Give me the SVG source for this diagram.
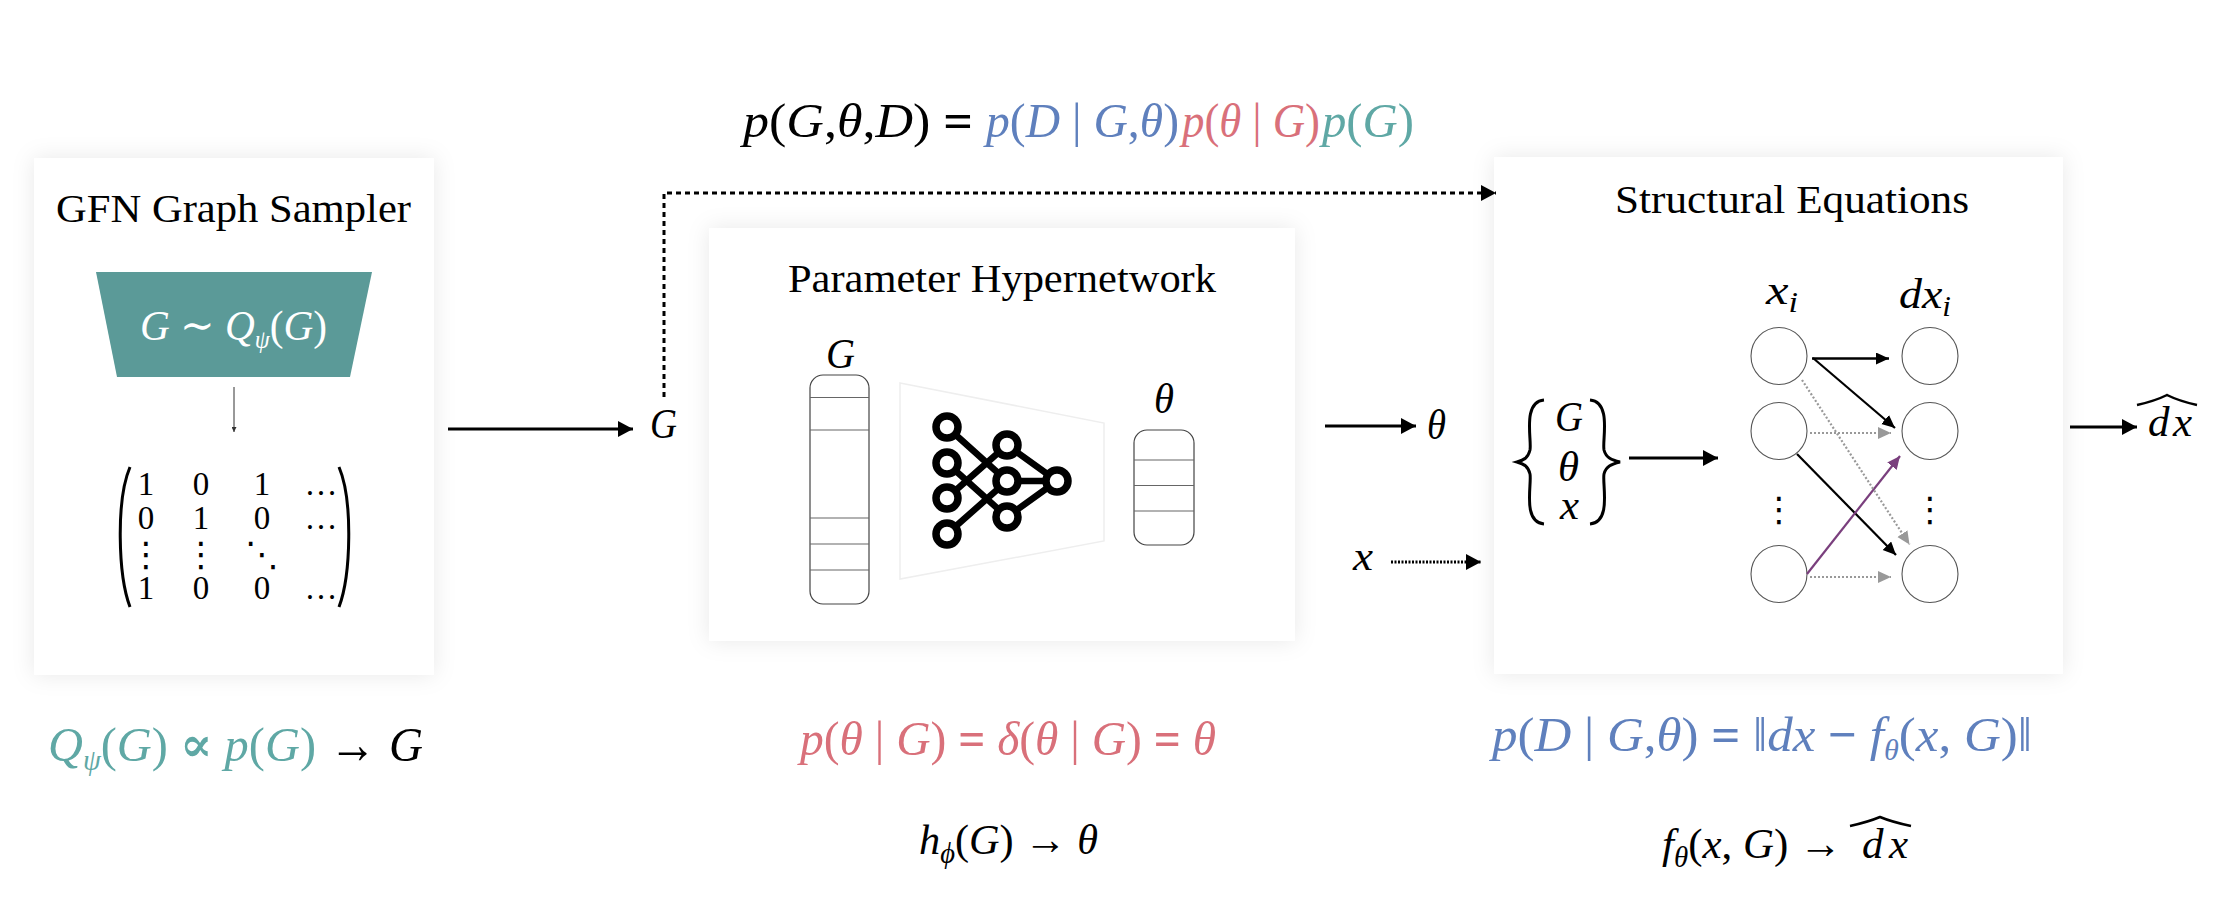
<svg xmlns="http://www.w3.org/2000/svg" width="2222" height="916" viewBox="0 0 2222 916">
<style>
text{font-family:"Liberation Serif","DejaVu Serif",serif;fill:#000}
.t{font-size:41px}
.m{font-size:49px;font-style:italic}
.l{font-size:43px;font-style:italic}
.u{font-style:normal}
.b{font-weight:bold;font-style:normal}
.s{font-size:29px}
.n{font-size:33px}
.dots{font-family:"DejaVu Sans",sans-serif;font-size:34px}
.blue{fill:#5f80bd}
.red{fill:#d9707a}
.green{fill:#5fa8a5}
.w,.w tspan{fill:#fff}
.box{fill:#fff;filter:url(#sh)}
.cell{fill:#fff;stroke:#444;stroke-width:1.2}
.sep{stroke:#666;stroke-width:1.2}
.c{fill:#fff;stroke:#555;stroke-width:1.1}
.nl{fill:none;stroke:#000;stroke-width:6.500}
.nc{fill:#fff;stroke:#000;stroke-width:7.500}
.a{fill:none;stroke:#000}
.br{fill:none;stroke:#000;stroke-width:3}
</style>
<defs>
<filter id="sh" x="-15%" y="-15%" width="130%" height="130%"><feDropShadow dx="0" dy="0" stdDeviation="11" flood-color="#000" flood-opacity="0.09"/></filter>
<marker id="ak" markerUnits="userSpaceOnUse" markerWidth="16" markerHeight="18" refX="15" refY="8" orient="auto"><path d="M0 0L15 8L0 16z" fill="#000"/></marker>
<marker id="am" markerUnits="userSpaceOnUse" markerWidth="14" markerHeight="14" refX="13" refY="6" orient="auto"><path d="M0 0L13 6L0 12z" fill="#000"/></marker>
<marker id="ag" markerUnits="userSpaceOnUse" markerWidth="14" markerHeight="14" refX="13" refY="6" orient="auto"><path d="M0 0L13 6L0 12z" fill="#999"/></marker>
<marker id="ap" markerUnits="userSpaceOnUse" markerWidth="14" markerHeight="14" refX="13" refY="6" orient="auto"><path d="M0 0L13 6L0 12z" fill="#7a3f7d"/></marker>
<marker id="at" markerUnits="userSpaceOnUse" markerWidth="6" markerHeight="6" refX="2.500" refY="5" orient="0"><path d="M0 0L5 0L2.500 5z" fill="#333"/></marker>
</defs>
<rect width="2222" height="916" fill="#fff"/>

<g id="sampler">
<rect class="box" x="34" y="158" width="400" height="517"/>
<text class="t" x="56" y="222" textLength="355" lengthAdjust="spacingAndGlyphs">GFN Graph Sampler</text>
<path d="M96 272H372L350 377H117z" fill="#5b9a98"/>
<text class="l w" x="140" y="340" textLength="187" lengthAdjust="spacingAndGlyphs">G ∼ Q<tspan style="font-size:25px" dy="8">ψ</tspan><tspan class="u" dy="-8">(</tspan>G<tspan class="u">)</tspan></text>
<g>
<text class="n" x="146" y="495" text-anchor="middle">1</text><text class="n" x="201" y="495" text-anchor="middle">0</text><text class="n" x="262" y="495" text-anchor="middle">1</text><text class="n" x="321" y="495" text-anchor="middle">…</text>
<text class="n" x="146" y="529" text-anchor="middle">0</text><text class="n" x="201" y="529" text-anchor="middle">1</text><text class="n" x="262" y="529" text-anchor="middle">0</text><text class="n" x="321" y="529" text-anchor="middle">…</text>
<text class="dots" x="146" y="566" text-anchor="middle">⋮</text><text class="dots" x="201" y="566" text-anchor="middle">⋮</text><text class="dots" x="262" y="566" text-anchor="middle">⋱</text>
<text class="n" x="146" y="599" text-anchor="middle">1</text><text class="n" x="201" y="599" text-anchor="middle">0</text><text class="n" x="262" y="599" text-anchor="middle">0</text><text class="n" x="321" y="599" text-anchor="middle">…</text>
</g>
<path class="br" d="M130 467C116 500 118 575 130 607"/>
<path class="br" d="M339 467C353 500 351 575 339 607"/>
</g>

<g id="hypernetwork">
<rect class="box" x="709" y="228" width="586" height="413"/>
<text class="t" x="788" y="292" textLength="428" lengthAdjust="spacingAndGlyphs">Parameter Hypernetwork</text>
<text class="l" x="826" y="368" textLength="29" lengthAdjust="spacingAndGlyphs">G</text>
<rect class="cell" x="810" y="375" width="59" height="229" rx="13"/>
<path class="sep" d="M810 397.500H869M810 430H869M810 518H869M810 544H869M810 570H869"/>
<path d="M900 383L1104 423V541L900 579z" fill="#fff" stroke="#eeeeee" stroke-width="1.500"/>
<g id="nn-icon">
<path class="nl" d="M947 427L1007 481M947 463L1007 517M947 498L1007 445M947 534L1007 481M1007 445L1057 481M1007 481H1057M1007 517L1057 481"/>
<circle class="nc" cx="947" cy="427" r="11"/><circle class="nc" cx="947" cy="463" r="11"/><circle class="nc" cx="947" cy="498" r="11"/><circle class="nc" cx="947" cy="534" r="11"/><circle class="nc" cx="1007" cy="445" r="11"/><circle class="nc" cx="1007" cy="481" r="11"/><circle class="nc" cx="1007" cy="517" r="11"/><circle class="nc" cx="1057" cy="481" r="11"/>
</g>
<text class="l" x="1154" y="413" textLength="20" lengthAdjust="spacingAndGlyphs">θ</text>
<rect class="cell" x="1134" y="430" width="60" height="115" rx="13"/>
<path class="sep" d="M1134 460H1194M1134 485.500H1194M1134 511H1194"/>
</g>

<g id="structural">
<rect class="box" x="1494" y="157" width="569" height="517"/>
<text class="t" x="1615" y="213" textLength="354" lengthAdjust="spacingAndGlyphs">Structural Equations</text>
<text class="l" x="1766" y="304" textLength="32" lengthAdjust="spacingAndGlyphs">x<tspan class="s" dy="8">i</tspan></text>
<text class="l" x="1899" y="308" textLength="52" lengthAdjust="spacingAndGlyphs">dx<tspan class="s" dy="8">i</tspan></text>
<ellipse class="c" cx="1779" cy="356" rx="28" ry="28.500"/><ellipse class="c" cx="1779" cy="431" rx="28" ry="28.500"/><ellipse class="c" cx="1779" cy="574" rx="28" ry="28.500"/>
<ellipse class="c" cx="1930" cy="356" rx="28" ry="28.500"/><ellipse class="c" cx="1930" cy="431" rx="28" ry="28.500"/><ellipse class="c" cx="1930" cy="574" rx="28" ry="28.500"/>
<text class="dots" x="1779" y="521" text-anchor="middle">⋮</text>
<text class="dots" x="1930" y="521" text-anchor="middle">⋮</text>
<path class="br" d="M1544 400C1522 402 1532 440 1530 450C1528 458 1524 460 1517 462C1524 464 1528 466 1530 474C1532 484 1522 522 1544 524"/>
<path class="br" d="M1590 400C1612 402 1602 440 1604 450C1606 458 1612 460 1620 462C1612 464 1606 466 1604 474C1602 484 1612 522 1590 524"/>
<text class="l" x="1555" y="431" textLength="28" lengthAdjust="spacingAndGlyphs">G</text>
<text class="l" x="1558" y="481" textLength="21" lengthAdjust="spacingAndGlyphs">θ</text>
<text class="l" x="1560" y="519" textLength="19" lengthAdjust="spacingAndGlyphs">x</text>
</g>

<g id="labels">
<text class="l" x="650" y="438" textLength="27" lengthAdjust="spacingAndGlyphs">G</text>
<text class="l" x="1427" y="439" textLength="19" lengthAdjust="spacingAndGlyphs">θ</text>
<text class="l" x="1353" y="570" textLength="20" lengthAdjust="spacingAndGlyphs">x</text>
<text class="l" x="2148" y="436" textLength="44">dx</text>
<path class="a" stroke-width="2.500" d="M2137 405Q2155 401 2167 395Q2179 401 2197 405"/>
</g>

<g id="connectors">
<line x1="234" y1="387" x2="234" y2="432" stroke="#333" stroke-width="1" marker-end="url(#at)"/>
<line class="a" x1="448" y1="429" x2="633" y2="429" stroke-width="2.800" marker-end="url(#ak)"/>
<path class="a" d="M664 397V193H1496" stroke-width="3" stroke-dasharray="5 4" marker-end="url(#ak)"/>
<line class="a" x1="1325" y1="426" x2="1416" y2="426" stroke-width="2.800" marker-end="url(#ak)"/>
<line class="a" x1="1391" y1="562" x2="1481" y2="562" stroke-width="2.800" stroke-dasharray="2 1.500" marker-end="url(#ak)"/>
<line class="a" x1="1629" y1="458" x2="1718" y2="458" stroke-width="2.800" marker-end="url(#ak)"/>
<line class="a" x1="2070" y1="427" x2="2137" y2="427" stroke-width="2.800" marker-end="url(#ak)"/>
<line class="a" x1="1812" y1="358.500" x2="1889" y2="358.500" stroke-width="2.500" marker-end="url(#am)"/>
<line class="a" x1="1813" y1="358" x2="1895" y2="428" stroke-width="2.200" marker-end="url(#am)"/>
<line class="a" x1="1797" y1="454" x2="1896" y2="555" stroke-width="2.200" marker-end="url(#am)"/>
<line x1="1807" y1="574" x2="1900" y2="456" stroke="#7a3f7d" stroke-width="2.200" marker-end="url(#ap)"/>
<line x1="1810" y1="433" x2="1891" y2="433" stroke="#999" stroke-width="2.200" stroke-dasharray="2 2" marker-end="url(#ag)"/>
<line x1="1802" y1="380" x2="1909.500" y2="544.500" stroke="#999" stroke-width="2.200" stroke-dasharray="2 2" marker-end="url(#ag)"/>
<line x1="1810" y1="577" x2="1891" y2="577" stroke="#999" stroke-width="2.200" stroke-dasharray="2 2" marker-end="url(#ag)"/>
</g>

<g id="formula-joint">
<text class="m" x="743" y="137" textLength="230" lengthAdjust="spacingAndGlyphs">p<tspan class="u">(</tspan>G<tspan class="u">,</tspan>θ<tspan class="u">,</tspan>D<tspan class="u">) </tspan><tspan class="b">=</tspan></text>
<text class="m blue" x="986" y="137" textLength="193" lengthAdjust="spacingAndGlyphs">p<tspan class="u">(</tspan>D<tspan class="u"> | </tspan>G<tspan class="u">,</tspan>θ<tspan class="u">)</tspan></text>
<text class="m red" x="1182" y="137" textLength="138" lengthAdjust="spacingAndGlyphs">p<tspan class="u">(</tspan>θ<tspan class="u"> | </tspan>G<tspan class="u">)</tspan></text>
<text class="m green" x="1322" y="137" textLength="92" lengthAdjust="spacingAndGlyphs">p<tspan class="u">(</tspan>G<tspan class="u">)</tspan></text>
</g>
<g id="formula-sampler">
<text class="m green" x="48" y="761" textLength="268" lengthAdjust="spacingAndGlyphs">Q<tspan class="s" dy="9">ψ</tspan><tspan class="u" dy="-9">(</tspan>G<tspan class="u">) </tspan><tspan class="b">∝</tspan><tspan class="u"> </tspan>p<tspan class="u">(</tspan>G<tspan class="u">)</tspan></text>
<text class="b" x="329" y="763" style="font-size:56px" textLength="47" lengthAdjust="spacingAndGlyphs">→</text>
<text class="m" x="389" y="761" textLength="34" lengthAdjust="spacingAndGlyphs">G</text>
</g>
<g id="formula-param">
<text class="m red" x="800" y="755" textLength="416" lengthAdjust="spacingAndGlyphs">p<tspan class="u">(</tspan>θ<tspan class="u"> | </tspan>G<tspan class="u">) </tspan><tspan class="b">=</tspan><tspan class="u"> </tspan>δ<tspan class="u">(</tspan>θ<tspan class="u"> | </tspan>G<tspan class="u">) </tspan><tspan class="b">=</tspan><tspan class="u"> </tspan>θ</text>
<text class="l" x="919" y="854" textLength="179" lengthAdjust="spacingAndGlyphs">h<tspan class="s" dy="9">ϕ</tspan><tspan class="u" dy="-9">(</tspan>G<tspan class="u">) </tspan><tspan class="b">→</tspan><tspan class="u"> </tspan>θ</text>
</g>
<g id="formula-struct">
<text class="m blue" x="1492" y="751" textLength="540" lengthAdjust="spacingAndGlyphs">p<tspan class="u">(</tspan>D<tspan class="u"> | </tspan>G<tspan class="u">,</tspan>θ<tspan class="u">) </tspan><tspan class="b">=</tspan><tspan class="u"> ‖</tspan>dx<tspan class="u"> </tspan><tspan class="b">−</tspan><tspan class="u"> </tspan>f<tspan class="s" dy="9">θ</tspan><tspan class="u" dy="-9">(</tspan>x<tspan class="u">, </tspan>G<tspan class="u">)‖</tspan></text>
<text class="l" x="1662" y="858" textLength="180" lengthAdjust="spacingAndGlyphs">f<tspan class="s" dy="9">θ</tspan><tspan class="u" dy="-9">(</tspan>x<tspan class="u">, </tspan>G<tspan class="u">) </tspan><tspan class="b">→</tspan></text>
<text class="l" x="1862" y="858" textLength="46">dx</text>
<path class="a" stroke-width="2.500" d="M1850 826Q1868 822 1880 817Q1892 822 1911 826"/>
</g>
</svg>
